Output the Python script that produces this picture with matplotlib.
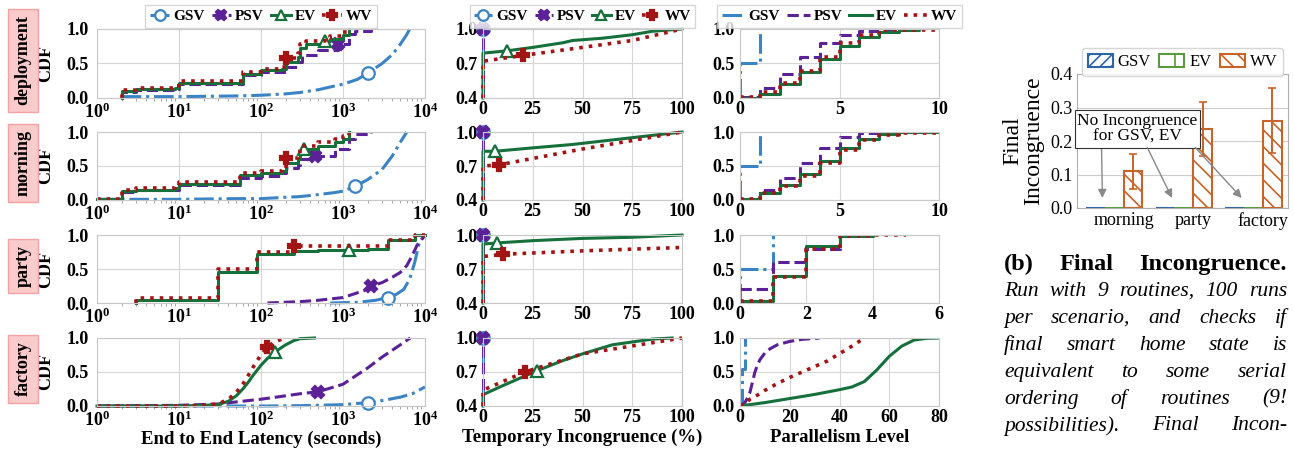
import matplotlib
matplotlib.use("Agg")
import matplotlib.pyplot as plt
from matplotlib.patches import Patch

W, H = 1294, 457

plt.rcParams["font.family"] = ["Liberation Serif", "DejaVu Serif"]
plt.rcParams["font.weight"] = "bold"
plt.rcParams["axes.labelweight"] = "bold"
plt.rcParams["hatch.linewidth"] = 1.2

series = ["GSV", "PSV", "EV", "WV"]
colors = {"GSV": "#3a84c6", "PSV": "#5b2196", "EV": "#15703c", "WV": "#a31414"}
styles = {"GSV": "-.", "PSV": "--", "EV": "-", "WV": ":"}
markers = {"GSV": "o", "PSV": "X", "EV": "^", "WV": "P"}
rows = ["deployment", "morning", "party", "factory"]

# ---- end to end latency (x, cdf, index of marked point)
lat_deployment = {
    "GSV": ([2, 10, 50, 100, 200, 300, 500, 700, 1000, 1500, 2000, 3000, 4000, 5000, 6000, 6500],
            [0.02, 0.02, 0.03, 0.04, 0.06, 0.08, 0.12, 0.16, 0.2, 0.27, 0.36, 0.5, 0.63, 0.78, 0.92, 1.0], 10),
    "PSV": ([2, 2, 3, 9, 10, 60, 100, 200, 280, 320, 500, 870, 1200, 1400, 2200],
            [0, 0.08, 0.11, 0.13, 0.2, 0.33, 0.37, 0.45, 0.52, 0.62, 0.7, 0.78, 0.93, 0.97, 1.0], 11),
    "EV": ([2, 2, 3, 9, 10, 60, 100, 180, 200, 280, 300, 350, 600, 700, 1000, 1200],
           [0, 0.1, 0.13, 0.15, 0.22, 0.35, 0.4, 0.42, 0.52, 0.6, 0.72, 0.78, 0.83, 0.86, 0.92, 1.0], 12),
    "WV": ([2, 2, 3, 9, 10, 60, 100, 180, 200, 280, 300, 350, 600, 700, 1000, 1200],
           [0, 0.12, 0.14, 0.17, 0.25, 0.37, 0.42, 0.45, 0.58, 0.65, 0.78, 0.82, 0.87, 0.9, 0.95, 1.0], 8),
}
lat_morning = {
    "GSV": ([1, 10, 50, 100, 200, 300, 500, 800, 1000, 1400, 2000, 3000, 4000, 5000, 6000],
            [0.01, 0.01, 0.02, 0.02, 0.04, 0.05, 0.08, 0.11, 0.13, 0.2, 0.3, 0.45, 0.65, 0.85, 1.0], 9),
    "PSV": ([1, 2, 2, 3, 9, 10, 55, 100, 180, 200, 280, 300, 450, 800, 1200, 1400, 2200],
            [0.01, 0.01, 0.12, 0.14, 0.15, 0.22, 0.33, 0.36, 0.4, 0.47, 0.52, 0.6, 0.65, 0.75, 0.9, 0.97, 1.0], 12),
    "EV": ([1, 2, 2, 3, 9, 10, 55, 100, 180, 200, 280, 300, 330, 500, 800, 1000, 1200],
           [0.02, 0.02, 0.13, 0.15, 0.17, 0.24, 0.37, 0.4, 0.43, 0.55, 0.6, 0.72, 0.75, 0.8, 0.85, 0.9, 1.0], 12),
    "WV": ([1, 2, 2, 3, 9, 10, 55, 100, 180, 200, 280, 300, 500, 800, 1000, 1200],
           [0.02, 0.02, 0.15, 0.17, 0.19, 0.26, 0.39, 0.42, 0.46, 0.62, 0.68, 0.8, 0.85, 0.9, 0.94, 1.0], 9),
}
lat_party = {
    "GSV": ([700, 1500, 2500, 3500, 4500, 5500, 6500, 7500, 8500, 10000],
            [0.0, 0.01, 0.04, 0.08, 0.13, 0.2, 0.35, 0.6, 0.88, 1.0], 3),
    "PSV": ([120, 300, 500, 1000, 2000, 2200, 3000, 4000, 5000, 6000, 7000, 8000, 10000],
            [0.0, 0.02, 0.04, 0.08, 0.2, 0.25, 0.3, 0.38, 0.45, 0.55, 0.7, 0.85, 1.0], 5),
    "EV": ([3, 3, 30, 90, 250, 500, 1200, 2000, 3500, 7500, 10000],
           [0, 0.05, 0.46, 0.72, 0.77, 0.78, 0.78, 0.79, 0.92, 1.0, 1.0], 6),
    "WV": ([3, 3, 30, 90, 250, 3500, 7500, 10000],
           [0, 0.07, 0.5, 0.75, 0.84, 0.92, 1.0, 1.0], 4),
}
lat_factory = {
    "GSV": ([1, 100, 300, 1000, 2000, 3000, 5000, 7000, 10000],
            [0, 0.0, 0.005, 0.02, 0.05, 0.08, 0.13, 0.18, 0.28], 4),
    "PSV": ([1, 10, 30, 50, 100, 200, 300, 500, 1000, 2000, 3000, 5000, 6600],
            [0, 0.01, 0.03, 0.06, 0.1, 0.15, 0.18, 0.21, 0.32, 0.56, 0.72, 0.9, 1.0], 7),
    "EV": ([1, 10, 20, 30, 40, 50, 60, 70, 80, 100, 120, 150, 200, 250, 300, 450],
           [0, 0, 0.01, 0.02, 0.07, 0.15, 0.25, 0.35, 0.45, 0.6, 0.7, 0.8, 0.9, 0.96, 0.99, 1.0], 11),
    "WV": ([1, 10, 20, 30, 40, 50, 60, 70, 80, 90, 100, 120, 150, 200],
           [0, 0.0, 0.01, 0.03, 0.1, 0.2, 0.32, 0.45, 0.57, 0.67, 0.75, 0.87, 0.95, 1.0], 11),
}
lat_steps = {"deployment": ["PSV", "EV", "WV"], "morning": ["PSV", "EV", "WV"],
             "party": ["EV", "WV"], "factory": []}

# ---- temporary incongruence (%)
tmp_deployment = {
    "GSV": ([0, 0], [0.4, 1.0], 1), "PSV": ([0, 0], [0.4, 1.0], 1),
    "EV": ([0, 0, 12, 25, 40, 45, 60, 75, 85, 100], [0.4, 0.79, 0.81, 0.84, 0.88, 0.9, 0.92, 0.95, 0.98, 1.0], 2),
    "WV": ([0, 0, 20, 50, 75, 100], [0.4, 0.72, 0.77, 0.84, 0.9, 1.0], 2),
}
tmp_morning = {
    "GSV": ([0, 0], [0.4, 1.0], 1), "PSV": ([0, 0], [0.4, 1.0], 1),
    "EV": ([0, 0, 6, 25, 45, 50, 75, 100], [0.4, 0.83, 0.83, 0.86, 0.89, 0.9, 0.95, 1.0], 2),
    "WV": ([0, 0, 8, 50, 100], [0.4, 0.7, 0.71, 0.85, 1.0], 2),
}
tmp_party = {
    "GSV": ([0, 0], [0.4, 1.0], 1), "PSV": ([0, 0], [0.4, 1.0], 1),
    "EV": ([0, 0, 7, 25, 50, 75, 100], [0.4, 0.92, 0.93, 0.95, 0.97, 0.98, 1.0], 2),
    "WV": ([0, 0, 10, 50, 100], [0.4, 0.81, 0.83, 0.86, 0.89], 2),
}
tmp_factory = {
    "GSV": ([0, 0], [0.4, 1.0], 1), "PSV": ([0, 0], [0.4, 1.0], 1),
    "EV": ([0, 0, 10, 27, 40, 50, 65, 85, 95], [0.4, 0.5, 0.58, 0.71, 0.8, 0.86, 0.94, 0.99, 1.0], 3),
    "WV": ([0, 0, 21, 50, 75, 100], [0.4, 0.54, 0.7, 0.86, 0.93, 1.0], 2),
}

# ---- parallelism level
par_deployment = {
    "GSV": ([0, 0, 1], [0, 0.5, 1.0]),
    "PSV": ([0, 1, 2, 3, 4, 5, 6, 7, 8], [0.02, 0.14, 0.35, 0.59, 0.79, 0.91, 0.97, 0.99, 1.0]),
    "EV": ([0, 1, 2, 3, 4, 5, 6, 7, 8, 9], [0.0, 0.06, 0.2, 0.37, 0.56, 0.76, 0.89, 0.96, 0.99, 1.0]),
    "WV": ([0, 1, 2, 3, 4, 5, 6, 7, 8, 10], [0.01, 0.09, 0.22, 0.39, 0.6, 0.79, 0.91, 0.98, 0.99, 1.0]),
}
par_morning = {
    "GSV": ([0, 0, 1], [0, 0.5, 1.0]),
    "PSV": ([0, 1, 2, 3, 4, 5, 6, 7, 8], [0.02, 0.15, 0.32, 0.55, 0.76, 0.92, 0.99, 1.0, 1.0]),
    "EV": ([0, 1, 2, 3, 4, 5, 6, 7, 8, 10], [0.01, 0.11, 0.22, 0.38, 0.58, 0.77, 0.9, 0.97, 1.0, 1.0]),
    "WV": ([0, 1, 2, 3, 4, 5, 6, 7, 8, 10], [0.01, 0.1, 0.2, 0.35, 0.55, 0.73, 0.88, 0.95, 0.99, 1.0]),
}
par_party = {
    "GSV": ([0, 0, 1], [0, 0.5, 1.0]),
    "PSV": ([0, 1, 2, 3], [0.2, 0.61, 0.8, 1.0]),
    "EV": ([0, 1, 2, 3, 4], [0.03, 0.39, 0.84, 0.99, 1.0]),
    "WV": ([0, 1, 2, 3, 4, 5], [0.03, 0.38, 0.8, 0.98, 1.0, 1.0]),
}
par_factory = {
    "GSV": ([0, 1, 2], [0.0, 0.55, 1.0]),
    "PSV": ([0, 2, 3, 4, 5, 6, 7, 8, 10, 12, 15, 20, 25, 32],
            [0, 0.05, 0.12, 0.2, 0.35, 0.5, 0.6, 0.68, 0.78, 0.84, 0.9, 0.95, 0.98, 1.0]),
    "EV": ([0, 10, 20, 30, 40, 45, 50, 55, 60, 65, 70, 75, 80],
           [0, 0.05, 0.11, 0.17, 0.24, 0.28, 0.36, 0.53, 0.73, 0.88, 0.97, 0.995, 1.0]),
    "WV": ([0, 2, 4, 7, 10, 15, 20, 25, 30, 35, 40, 45, 50],
           [0, 0.03, 0.1, 0.16, 0.23, 0.33, 0.42, 0.5, 0.58, 0.66, 0.77, 0.88, 1.0]),
}
par_steps = {"deployment": series, "morning": series, "party": series, "factory": ["GSV"]}
par_xmax = [10, 10, 6, 80]
par_xticks = [[0, 5, 10], [0, 5, 10], [0, 2, 4, 6], [0, 20, 40, 60, 80]]

# ---- final incongruence
scenarios = ["morning", "party", "factory"]
final_gsv = [0, 0, 0]
final_ev = [0, 0, 0]
final_wv = [0.109, 0.235, 0.261]
final_wv_err = [0.053, 0.08, 0.097]

caption = [
    ("(b) Final Incongruence.", "bold", "normal"),
    ("Run with 9 routines, 100 runs", "normal", "italic"),
    ("per scenario, and checks if", "normal", "italic"),
    ("final smart home state is", "normal", "italic"),
    ("equivalent to some serial", "normal", "italic"),
    ("ordering of routines (9!", "normal", "italic"),
    ("possibilities). Final Incon-", "normal", "italic"),
]

GRID = "#d6d6d6"
SPINE = "#c8c8c8"


def px_axes(fig, l, t, r, b):
    return fig.add_axes([l / W, 1 - b / H, (r - l) / W, (b - t) / H])


def style(ax):
    for s in ax.spines.values():
        s.set_color(SPINE)
        s.set_linewidth(0.8)
    ax.grid(True, color=GRID, lw=0.8)
    ax.set_axisbelow(True)
    ax.tick_params(which="major", length=0, labelsize=13)
    ax.tick_params(axis="x", pad=2)
    ax.tick_params(axis="y", pad=4)


def draw(ax, x, y, name, step, mark=None):
    kw = dict(color=colors[name], ls=styles[name], lw=2.2, label=name)
    if name == "WV":
        kw["lw"] = 2.6
    if step:
        kw["drawstyle"] = "steps-post"
    if mark is not None:
        kw.update(marker=markers[name], markevery=[mark], ms=9, mew=1.6,
                  mfc="white" if name in ("GSV", "EV") else colors[name],
                  mec=colors[name], clip_on=False)
    ax.plot(x, y, **kw)


def top_legend(ax, hl):
    ax.legend(loc="lower center", bbox_to_anchor=(0.5, 0.97), ncol=4, fontsize=11,
              handlelength=hl, handletextpad=0.25, columnspacing=0.45, markerscale=0.85,
              borderpad=0.3, borderaxespad=0.2, edgecolor="#cccccc", fancybox=False)


fig = plt.figure(figsize=(W / 100, H / 100), dpi=100)

row_px = [(29, 98), (132, 200), (235, 303), (338, 406)]
lat_data = [lat_deployment, lat_morning, lat_party, lat_factory]
tmp_data = [tmp_deployment, tmp_morning, tmp_party, tmp_factory]
par_data = [par_deployment, par_morning, par_party, par_factory]

for i, (t, b) in enumerate(row_px):
    row = rows[i]
    # latency
    ax = px_axes(fig, 97, t, 425, b)
    style(ax)
    ax.set_xscale("log")
    for s in series:
        x, y, m = lat_data[i][s]
        draw(ax, x, y, s, s in lat_steps[row], m)
    ax.set_xlim(1, 1e4)
    ax.set_ylim(0, 1)
    ax.set_yticks([0, 0.5, 1.0])
    ax.set_yticklabels(["0.0", "0.5", "1.0"])
    ax.tick_params(axis="y", pad=6)
    ax.tick_params(axis="x", which="major", pad=3)
    ax.tick_params(which="minor", length=2.5, color="#999999", width=0.6)
    ax.grid(False, which="minor")
    ax.set_ylabel("CDF", fontsize=13)
    ax.yaxis.set_label_coords(-0.13, 0.5)
    if i == 0:
        top_legend(ax, 1.3)
    if i == 3:
        ax.set_xlabel("End to End Latency (seconds)", fontsize=13.5, labelpad=1)
    fig.text(23 / W, 1 - ((t + b) / 2 - 3) / H, row, rotation=90, ha="center", va="center",
             fontsize=13, fontweight="bold",
             bbox=dict(boxstyle="square,pad=0.35", fc="#fbcaca", ec="#f2a2a2", lw=1))

    # temporary incongruence
    ax = px_axes(fig, 483, t, 682, b)
    style(ax)
    for s in series:
        x, y, m = tmp_data[i][s]
        draw(ax, x, y, s, False, m)
    ax.set_xlim(0, 100)
    ax.set_ylim(0.4, 1.0)
    ax.set_xticks([0, 25, 50, 75, 100])
    ax.set_yticks([0.4, 0.7, 1.0])
    ax.set_yticklabels(["0.4", "0.7", "1.0"])
    if i == 0:
        top_legend(ax, 1.2)
    if i == 3:
        ax.set_xlabel("Temporary Incongruence (%)", fontsize=13.5, labelpad=2)

    # parallelism
    ax = px_axes(fig, 740, t, 939, b)
    style(ax)
    for s in series:
        x, y = par_data[i][s]
        draw(ax, x, y, s, s in par_steps[row])
    ax.set_xlim(0, par_xmax[i])
    ax.set_ylim(0, 1)
    ax.set_xticks(par_xticks[i])
    ax.set_yticks([0, 0.5, 1.0])
    ax.set_yticklabels(["0.0", "0.5", "1.0"])
    if i == 0:
        top_legend(ax, 1.5)
    if i == 3:
        ax.set_xlabel("Parallelism Level", fontsize=13.5, labelpad=2)

# ---- final incongruence bar chart
bc = {"GSV": "#2e64a8", "EV": "#5a9a3c", "WV": "#c8632a"}
ax = px_axes(fig, 1077, 74, 1288, 208)
for s in ax.spines.values():
    s.set_color("#b0b0b0")
    s.set_linewidth(0.8)
ax.grid(True, axis="y", color="#cccccc", lw=0.8)
ax.set_axisbelow(True)
w = 0.27
xs = list(range(len(scenarios)))
ax.bar([x - 1.5 * w for x in xs], final_gsv, w, fc="white", ec=bc["GSV"], hatch="///", lw=1.5)
ax.bar([x - 0.5 * w for x in xs], final_ev, w, fc="white", ec=bc["EV"], hatch="|", lw=1.5)
ax.bar([x + 0.5 * w for x in xs], final_wv, w, fc="white", ec=bc["WV"], hatch="\\\\", lw=1.5,
       yerr=final_wv_err, error_kw=dict(ecolor=bc["WV"], elinewidth=1.4, capsize=3, capthick=1.2))
ax.set_xlim(-0.67, 2.36)
ax.set_ylim(0, 0.4)
ax.set_yticks([0, 0.1, 0.2, 0.3, 0.4])
ax.set_yticklabels(["0.0", "0.1", "0.2", "0.3", "0.4"])
ax.set_xticks(xs)
ax.set_xticklabels(scenarios)
ax.tick_params(length=0, labelsize=13, pad=3)
for lab in ax.get_xticklabels() + ax.get_yticklabels():
    lab.set_fontweight("normal")
ax.set_ylabel("Final\nIncongruence", fontsize=17, fontweight="normal", linespacing=1.0)
ax.yaxis.set_label_coords(-0.155, 0.5)
handles = [Patch(fc="white", ec=bc["GSV"], hatch="///", lw=1.5, label="GSV"),
           Patch(fc="white", ec=bc["EV"], hatch="|", lw=1.5, label="EV"),
           Patch(fc="white", ec=bc["WV"], hatch="\\\\", lw=1.5, label="WV")]
ax.legend(handles=handles, loc="lower center", bbox_to_anchor=(0.5, 0.985), ncol=3,
          prop=dict(size=12, weight="normal"), handlelength=1.5, handleheight=0.9,
          handletextpad=0.3, columnspacing=0.5, borderpad=0.35, borderaxespad=0.0,
          edgecolor="#cccccc", fancybox=True)
note = "No Incongruence\nfor GSV, EV"
note_kw = dict(xytext=(0.2, 0.236), ha="center", va="center", fontsize=12.5,
               fontweight="normal", linespacing=1.0)
ax.annotate(note, xy=(-1.5 * w + 0.1, 0.03),
            bbox=dict(boxstyle="square,pad=0.15", fc="white", ec="#333333", lw=0.8),
            arrowprops=dict(arrowstyle="-|>", color="#888888", lw=1.0,
                            shrinkA=0, shrinkB=0, relpos=(0.2, 0.0)), **note_kw)
for k, rel in ((1, (0.57, 0.0)), (2, (0.96, 0.0))):
    ax.annotate(note, xy=(k - 1.5 * w + 0.1, 0.03), alpha=0.0,
                bbox=dict(boxstyle="square,pad=0.15", fc="none", ec="none"),
                arrowprops=dict(arrowstyle="-|>", color="#888888", lw=1.0,
                                shrinkA=0, shrinkB=0, relpos=rel), **note_kw)

# ---- justified caption
renderer = fig.canvas.get_renderer()
x0, x1 = 1004, 1287
for j, (line, weight, fstyle) in enumerate(caption):
    yb = 270 if j == 0 else 296 + (j - 1) * 26.9
    words = line.split(" ")
    texts = [fig.text(0, 1 - yb / H, wd, fontsize=17.5 if j == 0 else 15.5, fontweight=weight,
                      fontstyle=fstyle, va="baseline", ha="left") for wd in words]
    widths = [tx.get_window_extent(renderer).width for tx in texts]
    gap = (x1 - x0 - sum(widths)) / (len(words) - 1)
    xp = x0
    for tx, wd in zip(texts, widths):
        tx.set_x(xp / W)
        xp += wd + gap

fig.savefig("out.png", dpi=100)
